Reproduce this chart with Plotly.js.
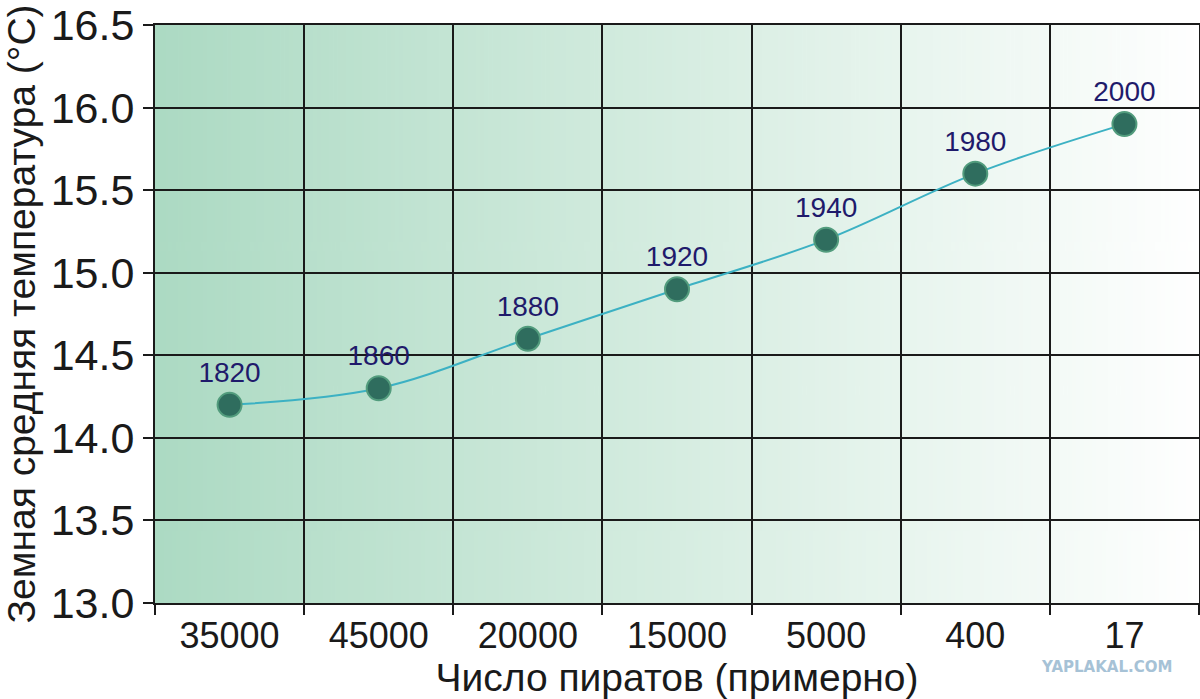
<!DOCTYPE html>
<html>
<head>
<meta charset="utf-8">
<script src="https://cdn.plot.ly/plotly-3.0.1.min.js"></script>
<style>
  html, body { margin: 0; padding: 0; background: #fff; }
  #chart { width: 1200px; height: 699px; }
</style>
</head>
<body>
<div id="chart"></div>
<script>
// число пиратов (категории по оси X)
const pirates = ['35000', '45000', '20000', '15000', '5000', '400', '17'];
// годы - подписи точек
const years = ['1820', '1860', '1880', '1920', '1940', '1980', '2000'];
// средняя температура, °C
const temps = [14.2, 14.3, 14.6, 14.9, 15.2, 15.6, 15.9];

// фон: горизонтальный градиент от зелёного к белому
function gradientImage() {
    const c = document.createElement('canvas');
    c.width = 512; c.height = 4;
    const ctx = c.getContext('2d');
    const g = ctx.createLinearGradient(0, 0, 512, 0);
    g.addColorStop(0, '#acdac3');
    g.addColorStop(0.5, '#d6ede1');
    g.addColorStop(1, '#ffffff');
    ctx.fillStyle = g;
    ctx.fillRect(0, 0, 512, 4);
    return c.toDataURL();
}

const font = '"Liberation Sans", Arial, Helvetica, sans-serif';

const data = [{
    x: pirates,
    y: temps,
    text: years,
    type: 'scatter',
    mode: 'lines+markers+text',
    textposition: 'top center',
    textfont: { family: font, size: 28, color: '#1f1a6b' },
    line: { color: '#3cb1c3', width: 2, shape: 'spline', smoothing: 1 },
    marker: {
        color: '#2f6d5e',
        size: 24,
        line: { color: '#529c7d', width: 2 }
    },
    cliponaxis: false,
    hoverinfo: 'none'
}];

const layout = {
    width: 1200,
    height: 699,
    margin: { l: 155, r: 1, t: 25, b: 96 },
    paper_bgcolor: '#ffffff',
    plot_bgcolor: '#ffffff',
    showlegend: false,
    font: { family: font, color: '#1a1a1a' },
    xaxis: {
        type: 'category',
        range: [-0.5, 6.5],
        tickson: 'boundaries',
        ticks: 'outside',
        ticklen: 10,
        tickwidth: 2,
        tickcolor: '#1a1a1a',
        showgrid: true,
        gridcolor: '#1a1a1a',
        gridwidth: 2,
        showline: true,
        linecolor: '#1a1a1a',
        linewidth: 2,
        mirror: true,
        tickfont: { family: font, size: 36, color: '#1a1a1a' },
        title: { text: 'Число пиратов (примерно)', font: { family: font, size: 39, color: '#1a1a1a' }, standoff: 6 },
        fixedrange: true
    },
    yaxis: {
        range: [13, 16.5],
        dtick: 0.5,
        tick0: 13,
        tickformat: '.1f',
        ticks: 'outside',
        ticklen: 10,
        tickwidth: 2,
        tickcolor: '#1a1a1a',
        showgrid: true,
        gridcolor: '#1a1a1a',
        gridwidth: 2,
        zeroline: false,
        showline: true,
        linecolor: '#1a1a1a',
        linewidth: 2,
        mirror: true,
        tickfont: { family: font, size: 43, color: '#1a1a1a' },
        title: { text: 'Земная средняя температура (°C)', font: { family: font, size: 39, color: '#1a1a1a' }, standoff: 10 },
        fixedrange: true
    },
    images: [{
        source: gradientImage(),
        xref: 'paper', yref: 'paper',
        x: 0, y: 1, sizex: 1, sizey: 1,
        xanchor: 'left', yanchor: 'top',
        sizing: 'stretch',
        layer: 'below'
    }],
    annotations: [{
        text: 'YAPLAKAL.COM',
        xref: 'paper', yref: 'paper',
        x: 0.911, y: -0.111,
        xanchor: 'center', yanchor: 'middle',
        showarrow: false,
        font: { family: '"DejaVu Sans", sans-serif', size: 15, weight: 'bold', color: '#a6c2d6' }
    }]
};

Plotly.newPlot('chart', data, layout, { displayModeBar: false, staticPlot: true });
</script>
</body>
</html>
